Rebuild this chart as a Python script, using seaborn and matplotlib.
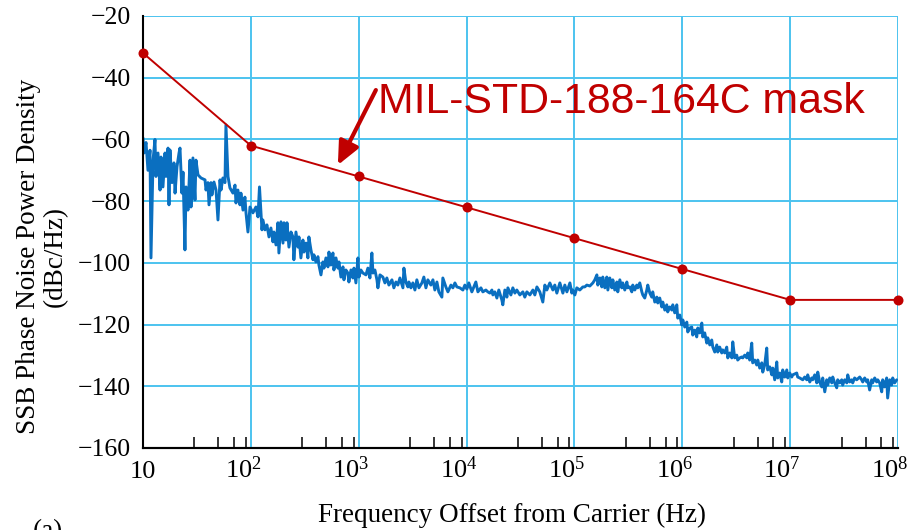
import numpy as np
import matplotlib
matplotlib.use("Agg")
import matplotlib.pyplot as plt
from matplotlib.ticker import FixedLocator, NullFormatter, NullLocator, MultipleLocator
from matplotlib.transforms import ScaledTranslation
import seaborn as sns

# MIL-STD-188-164C mask corner points
mask_freq = [10, 1e2, 1e3, 1e4, 1e5, 1e6, 1e7, 1e8]
mask_dbc = [-32, -62, -72, -82, -92, -102, -112, -112]

noise_log_freq = [
    1.000, 1.009, 1.028, 1.046, 1.065, 1.074, 1.093, 1.111, 1.120, 1.139,
    1.158, 1.167, 1.185, 1.204, 1.213, 1.232, 1.241, 1.250, 1.269, 1.287,
    1.297, 1.315, 1.334, 1.343, 1.361, 1.371, 1.389, 1.399, 1.417, 1.436,
    1.445, 1.463, 1.482, 1.491, 1.510, 1.538, 1.575, 1.584, 1.602, 1.612,
    1.630, 1.639, 1.658, 1.677, 1.695, 1.714, 1.723, 1.741, 1.760, 1.769,
    1.788, 1.806, 1.834, 1.853, 1.862, 1.880, 1.899, 1.908, 1.927, 1.945,
    1.955, 1.973, 1.992, 2.019, 2.047, 2.066, 2.080,
    2.103, 2.112, 2.131, 2.149, 2.168, 2.186, 2.205, 2.214, 2.233, 2.251,
    2.260, 2.279, 2.298, 2.307, 2.325, 2.335, 2.353, 2.372, 2.390, 2.399,
    2.418, 2.437, 2.446, 2.464, 2.483, 2.492, 2.511, 2.529, 2.538, 2.557,
    2.576, 2.585, 2.603, 2.622, 2.631, 2.650, 2.668, 2.678, 2.696, 2.715,
    2.724, 2.742, 2.761, 2.770, 2.789, 2.807, 2.817, 2.835, 2.854, 2.863,
    2.881, 2.900, 2.909, 2.928, 2.946, 2.956, 2.974, 2.993, 3.002, 3.020,
    3.039, 3.067, 3.085, 3.104, 3.122, 3.132, 3.150, 3.169, 3.178, 3.197,
    3.224, 3.243, 3.261, 3.280, 3.308, 3.326, 3.345, 3.363, 3.382, 3.410,
    3.419, 3.437, 3.456, 3.465, 3.484, 3.502, 3.521, 3.539, 3.558,
    3.586, 3.604, 3.623, 3.641, 3.669, 3.688, 3.706, 3.725, 3.743, 3.771,
    3.780, 3.808, 3.827, 3.855, 3.873, 3.892, 3.910, 3.938, 3.966, 3.984,
    4.003, 4.021, 4.049, 4.068, 4.086, 4.105, 4.133, 4.151, 4.179, 4.197,
    4.216, 4.235, 4.244, 4.262, 4.281, 4.299, 4.327, 4.336, 4.355, 4.374,
    4.383, 4.411, 4.429, 4.448, 4.466, 4.494, 4.522, 4.540, 4.559, 4.587,
    4.615, 4.633, 4.652, 4.679, 4.707, 4.726, 4.744, 4.772, 4.800, 4.818,
    4.837, 4.865, 4.893, 4.911, 4.930, 4.958,
    4.976, 4.985, 5.004, 5.022, 5.050, 5.078, 5.096, 5.115, 5.143, 5.171,
    5.189, 5.208, 5.217, 5.236, 5.254, 5.263, 5.282, 5.300, 5.310, 5.328,
    5.347, 5.356, 5.374, 5.393, 5.402, 5.421, 5.439, 5.448, 5.467, 5.486,
    5.495, 5.513, 5.532, 5.541, 5.560, 5.578, 5.587, 5.606, 5.625, 5.634,
    5.652, 5.671, 5.680, 5.699, 5.717, 5.726, 5.745, 5.764, 5.773, 5.791,
    5.810, 5.819, 5.838, 5.856, 5.865, 5.884, 5.903, 5.912, 5.930, 5.949,
    5.958, 5.977, 5.995, 6.005, 6.023, 6.042, 6.051,
    6.070, 6.088, 6.097, 6.116, 6.134, 6.144, 6.162, 6.181, 6.190, 6.208,
    6.227, 6.236, 6.255, 6.273, 6.283, 6.301, 6.320, 6.329, 6.347, 6.366,
    6.375, 6.394, 6.412, 6.422, 6.440, 6.459, 6.468, 6.486, 6.505, 6.514,
    6.533, 6.551, 6.561, 6.579, 6.598, 6.607, 6.625, 6.644, 6.653, 6.672,
    6.690, 6.700, 6.718, 6.737, 6.746, 6.764, 6.783, 6.792, 6.811, 6.830,
    6.839, 6.857, 6.876, 6.885, 6.904, 6.922, 6.931, 6.950, 6.969, 6.978,
    6.996, 7.015, 7.024, 7.061, 7.070, 7.089, 7.117, 7.135, 7.154, 7.163,
    7.182, 7.200, 7.209, 7.228, 7.247, 7.256, 7.274, 7.293, 7.302, 7.321,
    7.339, 7.348, 7.367, 7.386, 7.395, 7.413, 7.432, 7.441, 7.460, 7.478,
    7.487, 7.506, 7.525, 7.534, 7.552, 7.571, 7.580, 7.598, 7.617, 7.645,
    7.663, 7.673, 7.691, 7.710, 7.719, 7.737, 7.756, 7.765, 7.784, 7.802,
    7.812, 7.830, 7.849, 7.858, 7.876, 7.895, 7.904, 7.923, 7.941, 7.951,
    7.969, 7.988,
]
noise_dbc = [
    -59.5, -64.4, -61.0, -70.0, -63.5, -98.4, -66.7, -60.0, -72.0, -64.4,
    -76.4, -65.7, -75.4, -64.4, -72.0, -62.8, -81.2, -63.4, -74.0, -67.6,
    -77.4, -68.9, -64.4, -62.8, -77.4, -70.6, -95.8, -75.4, -82.9, -66.7,
    -81.9, -66.0, -79.6, -66.7, -71.5, -72.5, -73.1, -76.4, -74.0, -81.2,
    -74.0, -78.0, -73.8, -76.4, -86.1, -73.1, -76.4, -72.5, -74.0, -55.3,
    -72.0, -75.7, -77.4, -74.8, -80.6, -76.4, -81.2, -77.4, -82.9, -78.7,
    -83.8, -90.0, -81.9, -83.8, -81.9, -85.1, -75.4,
    -89.3, -86.1, -89.3, -87.7, -91.6, -88.7, -93.2, -90.0, -94.2, -87.0,
    -96.8, -86.7, -93.6, -87.0, -92.6, -87.0, -94.9, -90.0, -91.6, -99.0,
    -90.0, -94.9, -91.6, -98.4, -92.6, -96.5, -93.6, -98.4, -91.6, -95.8,
    -99.0, -97.4, -99.7, -98.0, -100.7, -103.9, -99.7, -101.7, -98.4, -101.3,
    -96.5, -100.7, -96.8, -102.3, -98.4, -101.7, -99.7, -104.6, -101.3, -105.5,
    -102.3, -103.3, -106.2, -102.3, -104.9, -101.7, -106.5, -98.4, -104.6, -102.3,
    -103.3, -103.9, -101.7, -104.9, -96.8, -103.3, -102.3, -105.5, -108.1, -103.9,
    -104.6, -106.5, -104.9, -107.2, -105.5, -108.1, -106.2, -107.2, -104.9, -108.1,
    -101.7, -106.2, -107.8, -106.2, -108.1, -106.5, -108.8, -105.5, -108.1,
    -106.5, -104.6, -108.1, -105.5, -107.2, -105.5, -108.8, -106.2, -109.4, -111.1,
    -104.9, -107.8, -109.4, -107.2, -108.1, -106.5, -107.8, -108.1, -108.8, -107.2,
    -108.5, -106.5, -109.4, -107.8, -106.2, -109.4, -108.1, -109.4, -108.8, -109.4,
    -109.8, -108.8, -110.4, -109.4, -111.4, -108.8, -112.0, -113.6, -108.8, -111.1,
    -108.1, -110.4, -108.1, -109.8, -108.8, -110.4, -109.4, -111.1, -109.4, -110.4,
    -108.8, -110.4, -107.8, -109.4, -112.7, -107.2, -108.8, -106.5, -108.8, -107.2,
    -109.8, -106.5, -109.8, -107.2, -109.4, -106.5,
    -109.8, -108.8, -110.4, -108.1, -108.8, -107.8, -107.8, -107.2, -107.5, -106.5,
    -105.5, -103.9, -107.2, -104.9, -107.8, -104.6, -108.1, -104.6, -108.8, -104.9,
    -108.1, -105.5, -108.8, -106.2, -109.4, -105.5, -108.1, -106.5, -108.8, -106.2,
    -108.1, -107.8, -109.4, -107.2, -108.8, -107.2, -108.1, -106.5, -109.4, -110.4,
    -111.4, -108.8, -107.2, -109.8, -111.1, -109.4, -112.7, -111.1, -113.0, -111.4,
    -114.3, -112.7, -115.3, -113.6, -115.9, -114.3, -115.3, -113.6, -116.2, -113.6,
    -117.9, -116.9, -120.1, -118.5, -120.8, -119.2, -122.4,
    -121.1, -120.8, -123.4, -121.8, -124.0, -121.1, -122.7, -119.5, -124.0, -122.7,
    -126.0, -124.3, -126.6, -125.0, -127.3, -128.9, -126.6, -128.9, -127.3, -129.2,
    -128.2, -129.2, -127.3, -130.8, -129.2, -130.8, -125.6, -130.8, -129.9, -131.5,
    -130.8, -130.5, -130.8, -129.9, -130.8, -129.2, -131.5, -126.0, -132.4, -131.5,
    -133.1, -131.5, -134.1, -132.4, -135.4, -133.1, -127.6, -134.7, -133.7, -136.3,
    -134.1, -137.9, -132.1, -137.3, -135.7, -138.6, -134.7, -137.0, -134.7, -137.3,
    -135.7, -137.0, -136.3, -135.7, -137.0, -137.3, -137.9, -137.0, -137.9, -136.3,
    -138.6, -137.3, -137.9, -136.3, -138.9, -135.4, -138.6, -140.2, -137.3, -141.8,
    -137.9, -139.6, -137.3, -138.9, -137.0, -138.9, -140.5, -137.9, -138.9, -137.9,
    -139.6, -137.9, -138.9, -136.3, -138.6, -137.9, -138.9, -137.3, -137.9, -137.0,
    -137.9, -138.6, -137.3, -138.6, -137.9, -141.2, -137.9, -138.9, -137.3, -138.6,
    -137.9, -138.9, -141.8, -137.9, -140.2, -137.3, -143.8, -137.9, -139.6, -137.3,
    -138.9, -137.9,
]

x_ticks = [10, 1e2, 1e3, 1e4, 1e5, 1e6, 1e7, 1e8]
x_tick_labels = ['10', r'$10^{2}$', r'$10^{3}$', r'$10^{4}$', r'$10^{5}$',
                 r'$10^{6}$', r'$10^{7}$', r'$10^{8}$']
y_ticks = [-160, -140, -120, -100, -80, -60, -40, -20]

sns.set_theme(style="white")
plt.rcParams['font.family'] = ['Liberation Serif', 'DejaVu Serif']
plt.rcParams['mathtext.fontset'] = 'custom'
plt.rcParams['mathtext.rm'] = 'Liberation Serif'
plt.rcParams['mathtext.it'] = 'Liberation Serif:italic'

red = '#c00000'
blue = '#0a6fc0'
grid_blue = '#4cc3ef'

fig = plt.figure(figsize=(9.1, 5.3), dpi=100)
ax = fig.add_axes([143 / 910, 82 / 530, 755 / 910, 432 / 530])
ax.set_xscale('log')

noise_freq = 10 ** np.array(noise_log_freq)
sns.lineplot(x=noise_freq, y=noise_dbc, ax=ax, color=blue, lw=2.1,
             sort=False, estimator=None)
sns.lineplot(x=mask_freq, y=mask_dbc, ax=ax, color=red, lw=1.4, marker='o',
             markersize=7.2, markeredgewidth=0, sort=False, estimator=None,
             clip_on=False, zorder=5)

ax.set_xlim(10, 1e8)
ax.set_ylim(-160, -20)

# axes styling
ax.set_axisbelow(True)
ax.grid(True, which='major', color=grid_blue, lw=1.4)
ax.grid(False, which='minor')
for side in ['top', 'right']:
    ax.spines[side].set_visible(False)
for side in ['left', 'bottom']:
    ax.spines[side].set_color('black')
    ax.spines[side].set_linewidth(1.5)

ax.set_xticks(x_ticks, x_tick_labels)
even_minor = [m * 10 ** k for k in range(1, 8) for m in (2, 4, 6, 8)]
odd_minor = [m * 10 ** k for k in range(1, 8) for m in (3, 5, 7, 9)]
ax.xaxis.set_minor_locator(FixedLocator(even_minor))
ax.xaxis.set_minor_formatter(NullFormatter())
ax.tick_params(axis='x', which='major', direction='in', length=22, width=1.3,
               color='black', labelsize=19, pad=21.5, labelcolor='black')
ax.tick_params(axis='x', which='minor', direction='in', length=14, width=1.1,
               color='black')
# labels with exponents sit a little left of their tick, as in the source
shift = ScaledTranslation(-0.08, 0, fig.dpi_scale_trans)
for i, lbl in enumerate(ax.get_xticklabels()):
    lbl.set_va('baseline')
    if i > 0:
        lbl.set_transform(lbl.get_transform() + shift)

sec = ax.secondary_xaxis('bottom')
sec.set_xticks(odd_minor)
sec.xaxis.set_minor_locator(NullLocator())
sec.tick_params(axis='x', which='major', direction='in', length=8, width=1.1,
                color='black', labelbottom=False)
sec.spines['bottom'].set_linewidth(1.5)

ax.set_yticks(y_ticks)
ax.yaxis.set_minor_locator(MultipleLocator(4))
ax.tick_params(axis='y', which='major', direction='in', length=12, width=1.3,
               color='black', labelsize=18.5, pad=8.5, labelcolor='black')
ax.tick_params(axis='y', which='minor', direction='in', length=8, width=1.1,
               color='black')

ax.set_xlabel('Frequency Offset from Carrier (Hz)', fontsize=19.5, color='black')
ax.xaxis.label.set_va('baseline')
ax.xaxis.set_label_coords(0.489, -0.171)
ax.set_ylabel('SSB Phase Noise Power Density\n(dBc/Hz)', fontsize=19.5,
              color='black', linespacing=1.1)
ax.yaxis.set_label_coords(-0.100, 0.444)

# mask annotation
ax.text(1507, -51.4, 'MIL-STD-188-164C mask', color=red, fontsize=30.8,
        family=['Liberation Sans', 'DejaVu Sans'], ha='left', va='baseline')
ax.annotate('', xy=(641, -68.3), xytext=(1442, -44.0),
            arrowprops=dict(arrowstyle='-|>,head_length=0.7,head_width=0.32',
                            color=red, lw=3.0, mutation_scale=20,
                            shrinkA=0, shrinkB=0))

fig.text(33 / 910, 0.021, '(a)', fontsize=19.5, color='black', va='top', ha='left')

plt.savefig('out.png', dpi=100)
plt.close()
